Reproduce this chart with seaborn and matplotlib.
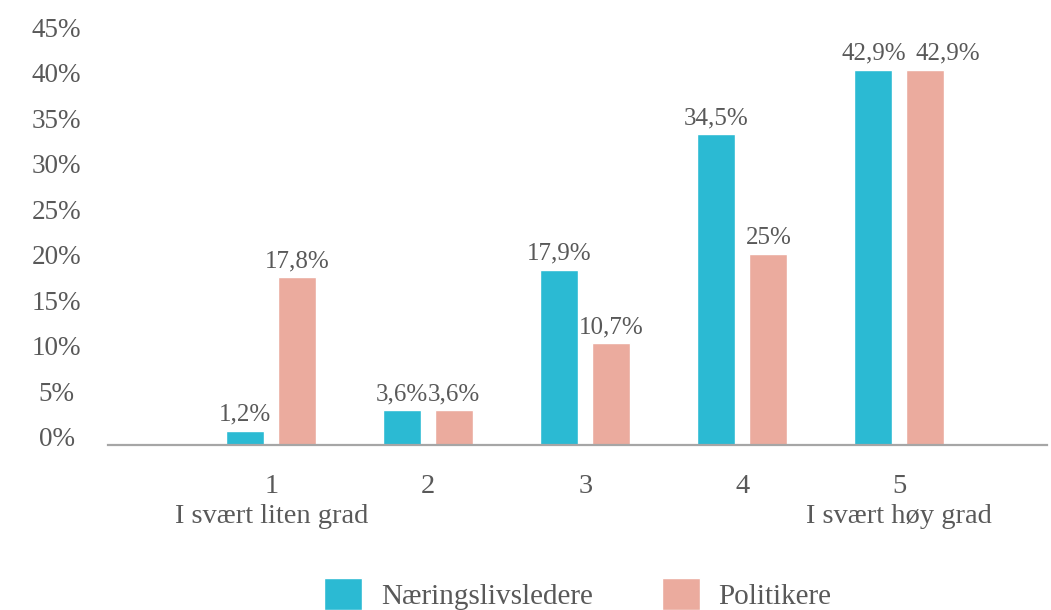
import numpy as np
import pandas as pd
import matplotlib.pyplot as plt
import matplotlib.transforms as mtransforms
import seaborn as sns

# Data (bar heights as drawn in the chart, and the value labels it prints)
categories = ["1\nI svært liten grad", "2", "3", "4", "5\nI svært høy grad"]
series = ["Næringslivsledere", "Politikere"]
naeringsliv = [1.5, 3.8, 19.2, 34.1, 41.2]
politikere = [18.4, 3.8, 11.1, 20.9, 41.2]
naeringsliv_labels = ["1,2%", "3,6%", "17,9%", "34,5%", "42,9%"]
politikere_labels = ["17,8%", "3,6%", "10,7%", "25%", "42,9%"]
y_ticks = [0, 5, 10, 15, 20, 25, 30, 35, 40, 45]

TEXT = "#595959"
colors = {"Næringslivsledere": "#2BBAD3", "Politikere": "#EBAB9E"}

df = pd.DataFrame({
    "kategori": categories * 2,
    "gruppe": [series[0]] * len(categories) + [series[1]] * len(categories),
    "andel": naeringsliv + politikere,
})

sns.set_style("white")
plt.rcParams["font.family"] = ["Liberation Serif", "DejaVu Serif"]

fig = plt.figure(figsize=(10.51, 6.10), dpi=100)
ax = fig.add_axes([0.1028, 0.2713, 0.8934, 0.6713])

sns.barplot(
    data=df, x="kategori", y="andel", hue="gruppe",
    order=categories, hue_order=series, palette=colors,
    width=0.662, gap=0.27, ax=ax, saturation=1,
)

# value labels above each bar (the last one is nudged right like in the original)
for s, (container, labels) in enumerate(zip(ax.containers, [naeringsliv_labels, politikere_labels])):
    for i, (bar, txt) in enumerate(zip(container, labels)):
        dx = 16 if (s == 1 and i == len(labels) - 1) else 0
        ax.annotate(
            txt, (bar.get_x() + bar.get_width() / 2, bar.get_height()),
            xytext=(dx, 11.5), textcoords="offset points",
            ha="center", va="center", fontsize=18, color=TEXT,
        )

ax.set_xlim(-1.04, 4.94)
ax.set_ylim(0, 45)
ax.set_yticks(y_ticks)
ax.set_yticklabels([f"{v}%" for v in y_ticks])
ax.set_xlabel("")
ax.set_ylabel("")

for side in ["top", "right", "left"]:
    ax.spines[side].set_visible(False)
ax.spines["bottom"].set_color("#A6A6A6")
ax.spines["bottom"].set_linewidth(1.6)

ax.tick_params(axis="x", length=0, pad=21, labelsize=20.5, labelcolor=TEXT)
ax.tick_params(axis="y", length=0, pad=37, labelsize=19.5, labelcolor=TEXT)
for lab in ax.get_xticklabels():
    lab.set_linespacing(1.3)
offset = mtransforms.ScaledTranslation(0, 8 / 100, fig.dpi_scale_trans)
for lab in ax.get_yticklabels():
    lab.set_horizontalalignment("center")
    lab.set_transform(lab.get_transform() + offset)

sns.move_legend(
    ax, "center", bbox_to_anchor=(0.55, 0.026), bbox_transform=fig.transFigure,
    ncol=2, title=None, frameon=False, fontsize=21,
    handlelength=1.3, handleheight=1.3, handletextpad=0.65, columnspacing=2.35,
)
for t in ax.get_legend().get_texts():
    t.set_color(TEXT)

plt.savefig("out.png", dpi=100)
plt.close()
